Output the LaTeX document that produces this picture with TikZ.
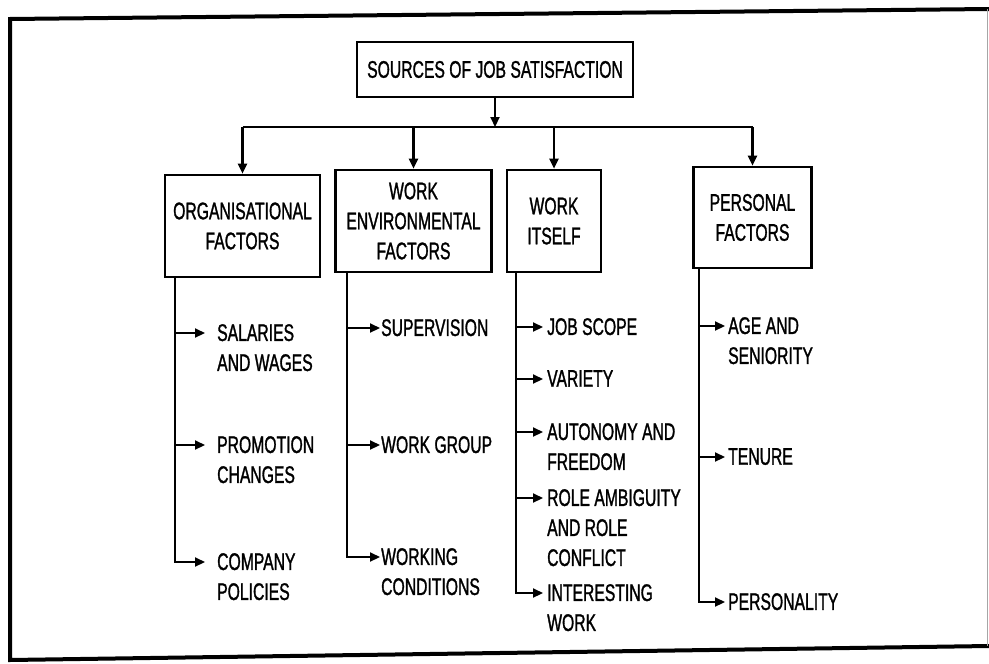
\documentclass[tikz,border=0pt]{standalone}
\usepackage{fontspec}
\setmainfont{Liberation Sans}[FakeStretch=0.655, FakeBold=1.2]
\usetikzlibrary{arrows.meta}
\begin{document}
\begin{tikzpicture}[x=1pt,y=-1pt,
  font=\fontsize{24}{30}\selectfont,
  box/.style={draw, line width=2.6pt, align=center, inner sep=0pt},
  item/.style={anchor=north west, align=left, inner sep=0pt},
  conn/.style={line width=2.2pt},
  arr/.style={line width=2.2pt, -{Triangle[length=10pt,width=9pt]}},
  frame/.style={line width=4pt}
]
\useasboundingbox (0,0) rectangle (989,664);
% outer frame
\draw[frame] (989,9) -- (10,19) -- (10,660) -- (989,646);
\draw[line width=1pt, black!35] (987,9) -- (987,646);

% main boxes
\node[box, minimum width=276pt, minimum height=55pt] (top) at (495,69.5) {SOURCES OF JOB SATISFACTION};
\node[box, minimum width=155pt, minimum height=102pt] (b1) at (242.5,226) {ORGANISATIONAL\\FACTORS};
\node[box, minimum width=156pt, minimum height=102pt] (b2) at (413.5,221) {WORK\\ENVIRONMENTAL\\FACTORS};
\node[box, minimum width=94pt, minimum height=102pt] (b3) at (554,221) {WORK\\ITSELF};
\node[box, minimum width=118pt, minimum height=101pt] (b4) at (752.5,217.5) {PERSONAL\\FACTORS};

% items
\node[item] (s11) at (217,324) {SALARIES\\AND WAGES};
\node[item] (s12) at (217,436) {PROMOTION\\CHANGES};
\node[item] (s13) at (217,553) {COMPANY\\POLICIES};
\node[item] (s21) at (381,319) {SUPERVISION};
\node[item] (s22) at (381,436) {WORK GROUP};
\node[item] (s23) at (381,548) {WORKING\\CONDITIONS};
\node[item] (s31) at (547,318) {JOB SCOPE};
\node[item] (s32) at (547,370) {VARIETY};
\node[item] (s33) at (547,423) {AUTONOMY AND\\FREEDOM};
\node[item] (s34) at (547,489) {ROLE AMBIGUITY\\AND ROLE\\CONFLICT};
\node[item] (s35) at (547,584) {INTERESTING\\WORK};
\node[item] (s41) at (728,317) {AGE AND\\SENIORITY};
\node[item] (s42) at (728,448) {TENURE};
\node[item] (s43) at (728,593) {PERSONALITY};

% arrow tip coordinates
\foreach \n/\g in {11/12pt,12/12pt,13/12pt,21/1pt,22/1pt,23/1pt,31/4pt,32/4pt,33/4pt,34/4pt,35/4pt,41/3pt,42/3pt,43/3pt}
  \coordinate (a\n) at ([xshift=-\g,yshift=-9pt]s\n.north west);

% trunk roots
\coordinate (r1) at ([xshift=11pt]b1.south west);
\coordinate (r2) at ([xshift=12.5pt]b2.south west);
\coordinate (r3) at ([xshift=10pt]b3.south west);
\coordinate (r4) at ([xshift=6.5pt]b4.south west);

% top connections
\coordinate (bus) at (495,127);
\draw[arr] (top.south) -- (top.south |- bus);
\draw[conn] (b1.north |- bus) -- (b4.north |- bus);
\foreach \b in {b1,b2,b3,b4}
  \draw[arr] (\b.north |- bus) -- (\b.north);

% column 1
\draw[arr] (r1) |- (a13);
\draw[arr] (r1 |- a11) -- (a11);
\draw[arr] (r1 |- a12) -- (a12);
% column 2
\draw[arr] (r2) |- (a23);
\draw[arr] (r2 |- a21) -- (a21);
\draw[arr] (r2 |- a22) -- (a22);
% column 3
\draw[arr] (r3) |- (a35);
\draw[arr] (r3 |- a31) -- (a31);
\draw[arr] (r3 |- a32) -- (a32);
\draw[arr] (r3 |- a33) -- (a33);
\draw[arr] (r3 |- a34) -- (a34);
% column 4
\draw[arr] (r4) |- (a43);
\draw[arr] (r4 |- a41) -- (a41);
\draw[arr] (r4 |- a42) -- (a42);
\end{tikzpicture}
\end{document}
